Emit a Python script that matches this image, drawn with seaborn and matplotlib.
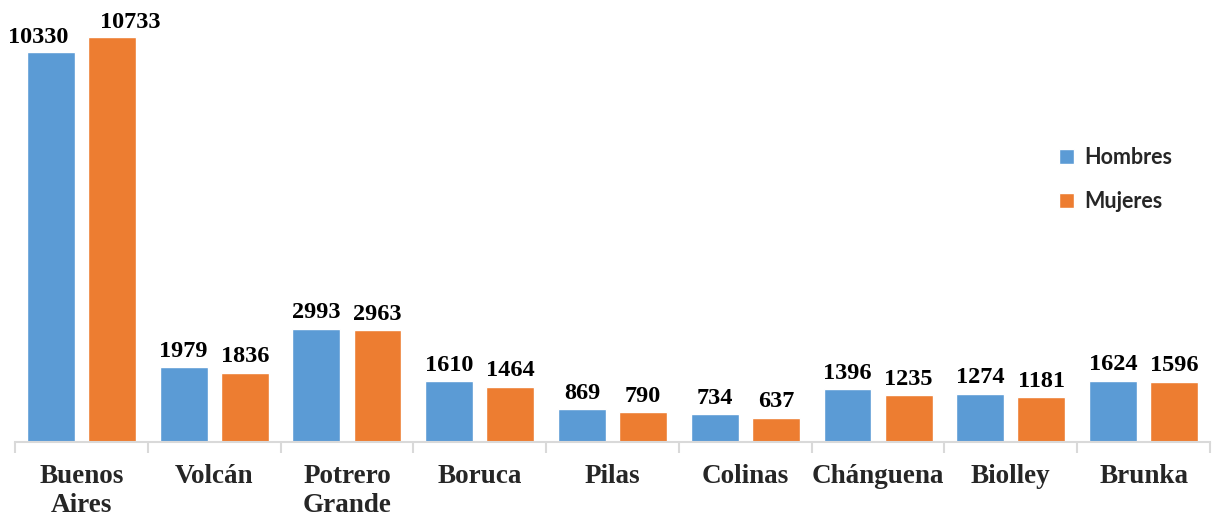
import pandas as pd
import matplotlib
matplotlib.use('Agg')
import matplotlib.pyplot as plt
import seaborn as sns
from matplotlib.ticker import FixedLocator

# Data
distritos = ['Buenos\nAires', 'Volcán', 'Potrero\nGrande', 'Boruca', 'Pilas',
             'Colinas', 'Chánguena', 'Biolley', 'Brunka']
hombres = [10330, 1979, 2993, 1610, 869, 734, 1396, 1274, 1624]
mujeres = [10733, 1836, 2963, 1464, 790, 637, 1235, 1181, 1596]

df = pd.DataFrame({
    'Distrito': distritos * 2,
    'Sexo': ['Hombres'] * len(hombres) + ['Mujeres'] * len(mujeres),
    'Poblacion': hombres + mujeres,
})

sns.set_style('white')
plt.rcParams['font.family'] = ['Liberation Serif', 'DejaVu Serif']

palette = {'Hombres': '#5B9BD5', 'Mujeres': '#ED7D31'}

fig = plt.figure(figsize=(12.14, 5.16), dpi=100)
ax = fig.add_axes([15 / 1214, 1 - 442 / 516, 1195 / 1214, 442 / 516])

sns.barplot(data=df, x='Distrito', y='Poblacion', hue='Sexo', palette=palette,
            width=0.92, gap=0.215, saturation=1, ax=ax)

for cont in ax.containers:
    ax.bar_label(cont, fmt='%d', padding=4, fontsize=17.5, fontweight='bold',
                 color='black')

# the two tall labels are nudged apart so they don't collide
ax.texts[0].xyann = (-9, 3)
ax.texts[len(distritos)].xyann = (13, 3)

ax.set_xlim(-0.5, len(distritos) - 0.5)
ax.set_ylim(0, 11709)
ax.set_xlabel('')
ax.set_ylabel('')
ax.set_yticks([])

for side in ['top', 'right', 'left']:
    ax.spines[side].set_visible(False)
ax.spines['bottom'].set_color('#D9D9D9')
ax.spines['bottom'].set_linewidth(1.5)

# category separators as minor ticks
ax.xaxis.set_minor_locator(FixedLocator([i - 0.5 for i in range(len(distritos) + 1)]))
ax.tick_params(axis='x', which='minor', length=8, width=1.5, color='#D9D9D9',
               bottom=True)
ax.tick_params(axis='x', which='major', length=0, pad=16)
for lbl in ax.get_xticklabels():
    lbl.set_fontsize(19.5)
    lbl.set_fontweight('bold')
    lbl.set_linespacing(1.22)

leg = ax.legend(loc='upper left', bbox_to_anchor=(1025 / 1195, 314 / 442),
                frameon=False, handlelength=0.7, handleheight=0.7,
                handletextpad=0.45, labelspacing=1.05,
                prop={'family': 'Lato', 'weight': 'bold', 'size': 15.5})

fig.savefig('out.png', dpi=100)
